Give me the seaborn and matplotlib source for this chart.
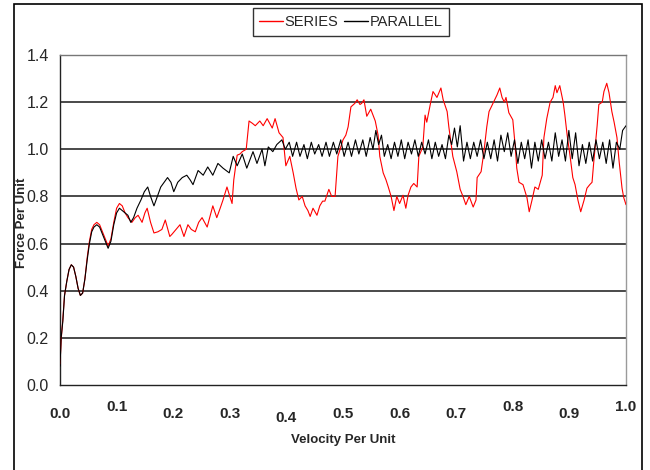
import numpy as np
import pandas as pd
import matplotlib
matplotlib.use("Agg")
import matplotlib.pyplot as plt
import seaborn as sns
from matplotlib.patches import Rectangle
from matplotlib.lines import Line2D

series_x = [0.000, 0.002, 0.005, 0.008, 0.012, 0.016, 0.020, 0.024, 0.028, 0.032, 0.036, 0.040,
            0.044, 0.048, 0.052, 0.056, 0.060, 0.065, 0.070, 0.075, 0.080, 0.085, 0.090, 0.095,
            0.100, 0.105, 0.110, 0.115, 0.120, 0.127, 0.133, 0.138, 0.145, 0.150, 0.154, 0.160,
            0.166, 0.173, 0.180, 0.186, 0.194, 0.198, 0.205, 0.212, 0.219, 0.226, 0.232, 0.239,
            0.245, 0.251, 0.260, 0.270, 0.277, 0.283, 0.288, 0.295, 0.300, 0.304, 0.307, 0.313,
            0.318, 0.322, 0.329, 0.334, 0.340, 0.345, 0.353, 0.359, 0.366, 0.375, 0.380, 0.387,
            0.394, 0.399, 0.406, 0.412, 0.417, 0.422, 0.428, 0.433, 0.438, 0.442, 0.447, 0.454,
            0.459, 0.464, 0.468, 0.475, 0.480, 0.486, 0.491, 0.500, 0.505, 0.509, 0.514, 0.521,
            0.525, 0.530, 0.533, 0.537, 0.542, 0.549, 0.557, 0.562, 0.565, 0.571, 0.576, 0.580,
            0.585, 0.590, 0.595, 0.600, 0.606, 0.611, 0.615, 0.620, 0.625, 0.631, 0.634, 0.641,
            0.645, 0.648, 0.655, 0.659, 0.666, 0.673, 0.677, 0.684, 0.687, 0.694, 0.701, 0.707,
            0.712, 0.717, 0.723, 0.730, 0.735, 0.737, 0.744, 0.749, 0.754, 0.758, 0.765, 0.772,
            0.777, 0.781, 0.785, 0.788, 0.793, 0.800, 0.804, 0.807, 0.811, 0.818, 0.825, 0.829,
            0.834, 0.839, 0.845, 0.852, 0.855, 0.860, 0.866, 0.871, 0.875, 0.878, 0.883, 0.889,
            0.892, 0.896, 0.901, 0.906, 0.910, 0.915, 0.920, 0.926, 0.931, 0.936, 0.940, 0.943,
            0.949, 0.952, 0.958, 0.961, 0.966, 0.970, 0.975, 0.979, 0.984, 0.988, 0.993, 0.996,
            1.000]
series_y = [0.09, 0.19, 0.28, 0.38, 0.44, 0.49, 0.51, 0.50, 0.46, 0.41, 0.38, 0.39,
            0.45, 0.54, 0.61, 0.66, 0.68, 0.69, 0.68, 0.65, 0.62, 0.59, 0.62, 0.69,
            0.75, 0.77, 0.76, 0.73, 0.71, 0.69, 0.71, 0.72, 0.69, 0.73, 0.75, 0.69,
            0.645, 0.65, 0.66, 0.70, 0.63, 0.64, 0.66, 0.68, 0.63, 0.68, 0.66, 0.65,
            0.69, 0.71, 0.67, 0.76, 0.71, 0.75, 0.785, 0.84, 0.80, 0.77, 0.87, 0.975,
            0.98, 0.99, 1.00, 1.12, 1.11, 1.10, 1.12, 1.10, 1.13, 1.09, 1.13, 1.07,
            1.05, 0.93, 0.97, 0.90, 0.835, 0.785, 0.80, 0.76, 0.74, 0.715, 0.75, 0.72,
            0.76, 0.78, 0.78, 0.83, 0.80, 0.80, 0.97, 1.04, 1.06, 1.095, 1.18, 1.195,
            1.21, 1.19, 1.195, 1.21, 1.14, 1.17, 1.12, 1.06, 0.97, 0.90, 0.87, 0.84,
            0.80, 0.74, 0.80, 0.77, 0.805, 0.75, 0.805, 0.84, 0.855, 0.84, 0.97, 1.01,
            1.145, 1.115, 1.20, 1.245, 1.22, 1.26, 1.21, 1.16, 1.095, 0.97, 0.905, 0.83,
            0.80, 0.765, 0.80, 0.755, 0.785, 0.88, 0.905, 0.99, 1.095, 1.16, 1.195, 1.23,
            1.26, 1.22, 1.20, 1.22, 1.155, 1.125, 1.02, 0.92, 0.86, 0.85, 0.795, 0.735,
            0.785, 0.84, 0.83, 0.89, 1.05, 1.13, 1.20, 1.22, 1.27, 1.24, 1.27, 1.20,
            1.145, 1.06, 0.975, 0.88, 0.85, 0.785, 0.735, 0.785, 0.835, 0.85, 0.86, 0.945,
            1.10, 1.19, 1.20, 1.245, 1.28, 1.24, 1.16, 1.115, 1.05, 0.945, 0.835, 0.795,
            0.765]

parallel_x = [0.000, 0.002, 0.005, 0.008, 0.012, 0.016, 0.020, 0.024, 0.028, 0.032, 0.036, 0.040,
              0.044, 0.048, 0.052, 0.056, 0.060, 0.065, 0.070, 0.075, 0.080, 0.085, 0.090, 0.095,
              0.100, 0.105, 0.110, 0.115, 0.120, 0.125, 0.130, 0.136, 0.143, 0.149, 0.155, 0.160,
              0.166, 0.172, 0.178, 0.184, 0.190, 0.196, 0.201, 0.208, 0.216, 0.224, 0.230, 0.235,
              0.244, 0.253, 0.261, 0.270, 0.279, 0.288, 0.299, 0.306, 0.313, 0.322, 0.330, 0.341,
              0.348, 0.357, 0.362, 0.368, 0.376, 0.383, 0.392, 0.398,
              0.405, 0.411, 0.418, 0.424, 0.431, 0.437, 0.444, 0.450, 0.457, 0.463, 0.470, 0.476,
              0.483, 0.489, 0.496, 0.502, 0.509, 0.515, 0.522, 0.528, 0.535, 0.541, 0.548, 0.553,
              0.558, 0.563, 0.568, 0.573, 0.579, 0.585, 0.591, 0.597, 0.603, 0.609, 0.615, 0.621,
              0.627, 0.633, 0.639, 0.645, 0.651, 0.657, 0.663, 0.669, 0.675, 0.681, 0.687, 0.692,
              0.697, 0.702, 0.707, 0.713, 0.719, 0.725, 0.731, 0.737, 0.743, 0.749, 0.755, 0.761,
              0.767, 0.773, 0.779, 0.785, 0.791, 0.797, 0.803, 0.809, 0.815, 0.821, 0.827, 0.833,
              0.839, 0.845, 0.851, 0.857, 0.863, 0.869, 0.875, 0.881, 0.887, 0.893, 0.899, 0.905,
              0.911, 0.917, 0.923, 0.929, 0.935, 0.941, 0.947, 0.953, 0.959, 0.965, 0.971, 0.977,
              0.983, 0.989, 0.994, 1.000]
parallel_y = [0.08, 0.20, 0.27, 0.38, 0.44, 0.49, 0.51, 0.50, 0.46, 0.41, 0.38, 0.39,
              0.45, 0.53, 0.60, 0.65, 0.67, 0.68, 0.67, 0.64, 0.61, 0.58, 0.61, 0.68,
              0.73, 0.75, 0.74, 0.73, 0.72, 0.69, 0.71, 0.75, 0.785, 0.82, 0.84, 0.80,
              0.76, 0.80, 0.84, 0.86, 0.88, 0.86, 0.82, 0.86, 0.88, 0.89, 0.87, 0.85,
              0.91, 0.89, 0.925, 0.89, 0.94, 0.92, 0.90, 0.97, 0.93, 0.98, 0.92, 0.99,
              0.94, 1.00, 0.93, 1.01, 0.99, 1.02, 1.04, 1.00,
              1.03, 0.97, 1.03, 0.97, 1.02, 0.96, 1.03, 0.98, 1.02, 0.97, 1.03, 0.97,
              1.03, 0.98, 1.04, 0.97, 1.03, 0.97, 1.04, 0.98, 1.04, 0.97, 1.05, 1.00,
              1.08, 1.02, 1.06, 0.97, 1.02, 0.96, 1.03, 0.97, 1.04, 0.96, 1.03, 0.98,
              1.04, 0.97, 1.03, 0.98, 1.04, 0.96, 1.03, 0.97, 1.02, 0.96, 1.06, 1.02,
              1.09, 1.01, 1.10, 0.95, 1.03, 0.96, 1.03, 0.97, 1.04, 0.96, 1.03, 0.96,
              1.04, 0.95, 1.06, 0.99, 1.07, 0.97, 1.04, 0.94, 1.03, 0.96, 1.04, 0.92,
              1.03, 0.95, 1.04, 0.96, 1.03, 0.95, 1.07, 0.97, 1.04, 0.95, 1.08, 0.96,
              1.07, 0.93, 1.02, 0.94, 1.03, 0.95, 1.04, 0.96, 1.03, 0.94, 1.04, 0.92,
              1.03, 1.00, 1.08, 1.10]

x_ticks = [0.0, 0.1, 0.2, 0.3, 0.4, 0.5, 0.6, 0.7, 0.8, 0.9, 1.0]
y_ticks = [0.0, 0.2, 0.4, 0.6, 0.8, 1.0, 1.2, 1.4]
x_tick_labels = ["0.0", "0.1", "0.2", "0.3", "0.4", "0.5", "0.6", "0.7", "0.8", "0.9", "1.0"]
y_tick_labels = ["0.0", "0.2", "0.4", "0.6", "0.8", "1.0", "1.2", "1.4"]
series_names = ["SERIES", "PARALLEL"]

df = pd.concat([
    pd.DataFrame({"velocity": series_x, "force": series_y, "type": series_names[0]}),
    pd.DataFrame({"velocity": parallel_x, "force": parallel_y, "type": series_names[1]}),
], ignore_index=True)

sns.set_style("white")
plt.rcParams["font.family"] = ["Liberation Sans", "DejaVu Sans"]

fig = plt.figure(figsize=(6.5, 4.7), dpi=100)
ax = fig.add_axes([60 / 650, 1 - 385 / 470, 566 / 650, 330 / 470])

for yv in y_ticks[1:-1]:
    ax.axhline(yv, color="#3a3a3a", lw=1.3, zorder=1)

sns.lineplot(data=df, x="velocity", y="force", hue="type", sort=False,
             palette={"SERIES": "#ff0000", "PARALLEL": "#000000"},
             hue_order=series_names, lw=0.8, ax=ax, legend=False, estimator=None, zorder=3)

ax.set_xlim(0, 1.0)
ax.set_ylim(0, 1.4)
ax.set_xticks(x_ticks)
ax.set_yticks(y_ticks)
ax.set_xticklabels(x_tick_labels, fontsize=11, fontweight="bold")
ax.set_yticklabels(y_tick_labels, fontsize=11.5)
ax.tick_params(axis="both", direction="out", length=4, width=1, color="#333333")
ax.tick_params(axis="x", pad=12)
ax.tick_params(axis="y", pad=4)

offsets = {1: 5, 4: -3, 8: 5, 10: 5}
for i, t in enumerate(ax.xaxis.get_major_ticks()):
    if i in offsets:
        t.set_pad(12 - offsets[i])

ax.set_xlabel("Velocity Per Unit", fontsize=9.5, fontweight="bold", labelpad=6)
ax.set_ylabel("Force Per Unit", fontsize=9.5, fontweight="bold")
ax.yaxis.set_label_coords((28 - 60) / 566, 0.49)

for side in ["top", "right"]:
    ax.spines[side].set_color("#9a9a9a")
    ax.spines[side].set_linewidth(1.0)
for side in ["left", "bottom"]:
    ax.spines[side].set_color("#222222")
    ax.spines[side].set_linewidth(1.0)
ax.spines["top"].set_color("#777777")

handles = [Line2D([], [], color="#ff0000", lw=1.0), Line2D([], [], color="#000000", lw=1.0)]
leg = fig.legend(handles, series_names, loc="center", bbox_to_anchor=(351 / 650, 1 - 22 / 470),
                 ncol=2, frameon=True, fontsize=10.5, handlelength=1.6, handletextpad=0.15,
                 columnspacing=0.4, borderpad=0.45, fancybox=False)
leg.get_frame().set_edgecolor("black")
leg.get_frame().set_linewidth(1.0)

fig.patches.append(Rectangle((14 / 650, -0.05), (642 - 14) / 650, 1.05 - 4 / 470,
                             transform=fig.transFigure, fill=False, edgecolor="black", lw=1.2))

fig.savefig("out.png", dpi=100)
